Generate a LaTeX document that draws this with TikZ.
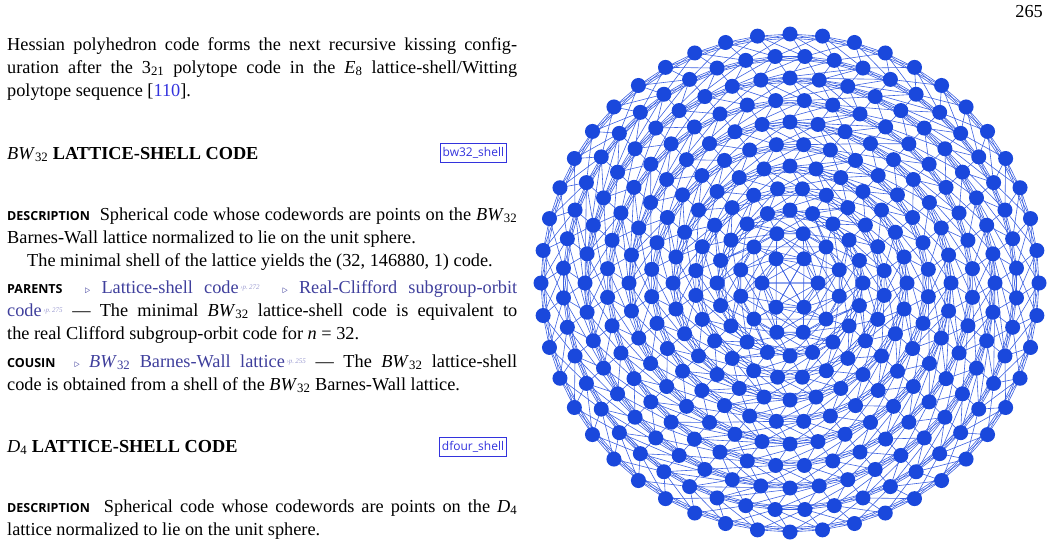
\documentclass[tikz,border=0pt]{standalone}
\usepackage{fontspec}
\setmainfont{Liberation Serif}
\newfontfamily\lblfont{Open Sans}
\newfontfamily\boxfont{Open Sans}
\definecolor{gblue}{HTML}{1A48DC}
\definecolor{eblue}{HTML}{3D62E2}
\definecolor{lnk}{HTML}{3F3F9C}
\definecolor{cite}{HTML}{3333DD}
\definecolor{pg}{HTML}{9A9AD0}
\newcommand{\bodyf}{\fontsize{18.3}{23}\selectfont}
\newcommand{\lbl}[1]{{\lblfont\bfseries\fontsize{12.5}{14}\selectfont #1}}
\newcommand{\pref}[1]{{\color{pg}\fontsize{10}{10}\selectfont\,\textsuperscript{\itshape ›p.\,#1}}}
\newcommand{\tri}{{\color{lnk}\fontsize{11}{12}\selectfont$\triangleright$}}
\newcommand{\jline}[1]{\makebox[510pt][s]{#1}}
\newcommand{\BWt}{\textit{BW}\textsubscript{32}}
\begin{document}
\begin{tikzpicture}[x=1pt,y=-1pt,
  txt/.style={anchor=base west,inner sep=0pt,font=\bodyf},
  tag/.style={draw=cite,line width=0.8pt,inner sep=2.5pt,font=\boxfont\fontsize{12}{12}\selectfont,text=cite,anchor=north east,minimum height=19pt},
  dot/.style={circle,fill=gblue,inner sep=0pt,minimum size=15pt},
  edge/.style={draw=eblue,line width=0.6pt}]
\useasboundingbox (0,0) rectangle (1050,552);
\node[txt,anchor=base east] (pn) at (1043,17) {265};
\node[txt] (t1) at (7,50) {\jline{Hessian polyhedron code forms the next recursive kissing config-}};
\node[txt] (t2) at (7,73) {\jline{uration after the 3\textsubscript{21} polytope code in the \textit{E}\textsubscript{8} lattice-shell/Witting}};
\node[txt] (t3) at (7,96) {polytope sequence [{\color{cite}110}].};
\node[txt] (h1) at (7,159) {\BWt{} \textbf{LATTICE-SHELL CODE}};
\node[tag] (b1) at (507,143) {bw32\_shell};
\node[txt] (d1) at (7,220) {\jline{\lbl{DESCRIPTION}\ \ Spherical code whose codewords are points on the \BWt}};
\node[txt] (d2) at (7,243) {Barnes-Wall lattice normalized to lie on the unit sphere.};
\node[txt] (d3) at (27,266) {The minimal shell of the lattice yields the (32, 146880, 1) code.};
\node[txt] (p1) at (7,293) {\jline{\lbl{PARENTS}\ \ \tri\ {\color{lnk}Lattice-shell code}\pref{272}\ \ \tri\ {\color{lnk}Real-Clifford subgroup-orbit}}};
\node[txt] (p2) at (7,316) {\jline{{\color{lnk}code}\pref{275} --- The minimal \BWt{} lattice-shell code is equivalent to}};
\node[txt] (p3) at (7,339) {the real Clifford subgroup-orbit code for \textit{n} = 32.};
\node[txt] (c1) at (7,367) {\jline{\lbl{COUSIN}\ \ \tri\ {\color{lnk}\BWt{} Barnes-Wall lattice}\pref{255} --- The \BWt{} lattice-shell}};
\node[txt] (c2) at (7,390) {code is obtained from a shell of the \BWt{} Barnes-Wall lattice.};
\node[txt] (h2) at (7,452) {\textit{D}\textsubscript{4} \textbf{LATTICE-SHELL CODE}};
\node[tag] (b2) at (507,437) {dfour\_shell};
\node[txt] (e1) at (7,512) {\jline{\lbl{DESCRIPTION}\ \ Spherical code whose codewords are points on the \textit{D}\textsubscript{4}}};
\node[txt] (e2) at (7,535) {lattice normalized to lie on the unit sphere.};
% graph coordinates
\foreach \k/\r/\n/\ph in {1/249/48/0,2/227/48/3.75,3/205/44/0,4/183/40/4.5,5/161/36/0,6/139/32/5.625,7/117/28/0,8/95/24/7.5,9/73/20/0,10/51/12/15,11/28/6/0}{
  \foreach \i in {1,...,\n}{
    \coordinate (p\k-\i) at ({790+\r*cos(\ph+360/\n*\i)},{283+\r*sin(\ph+360/\n*\i)});
  }
}
\foreach \k/\n/\m in {1/48/48,2/48/44,3/44/40,4/40/36,5/36/32,6/32/28,7/28/24,8/24/20,9/20/12,10/12/6}{
  \pgfmathtruncatemacro\kn{\k+1}
  \foreach \i in {1,...,\n}{
    \pgfmathtruncatemacro\ia{mod(\i,\n)+1}
    \pgfmathtruncatemacro\ib{mod(\i+2,\n)+1}
    \pgfmathtruncatemacro\ta{floor((\i-1)/\n*\m+0.001)+1}
    \pgfmathtruncatemacro\tb{mod(\ta,\m)+1}
    \pgfmathtruncatemacro\tc{mod(\ta+\m-3,\m)+1}
    \path[edge] (p\k-\i) -- (p\k-\ia) (p\k-\i) -- (p\k-\ib) (p\k-\i) -- (p\kn-\ta) (p\k-\i) -- (p\kn-\tb) (p\k-\i) -- (p\kn-\tc);
  }
}
\foreach \i in {1,...,6}{
  \pgfmathtruncatemacro\ia{mod(\i,6)+1}
  \pgfmathtruncatemacro\ib{mod(\i+2,6)+1}
  \path[edge] (p11-\i) -- (p11-\ia) (p11-\i) -- (p11-\ib);
}
\foreach \k/\n in {1/48,2/48,3/44,4/40,5/36,6/32,7/28,8/24,9/20,10/12,11/6}{
  \foreach \i in {1,...,\n}{
    \node[dot] (v\k-\i) at (p\k-\i) {};
  }
}
\end{tikzpicture}
\end{document}
